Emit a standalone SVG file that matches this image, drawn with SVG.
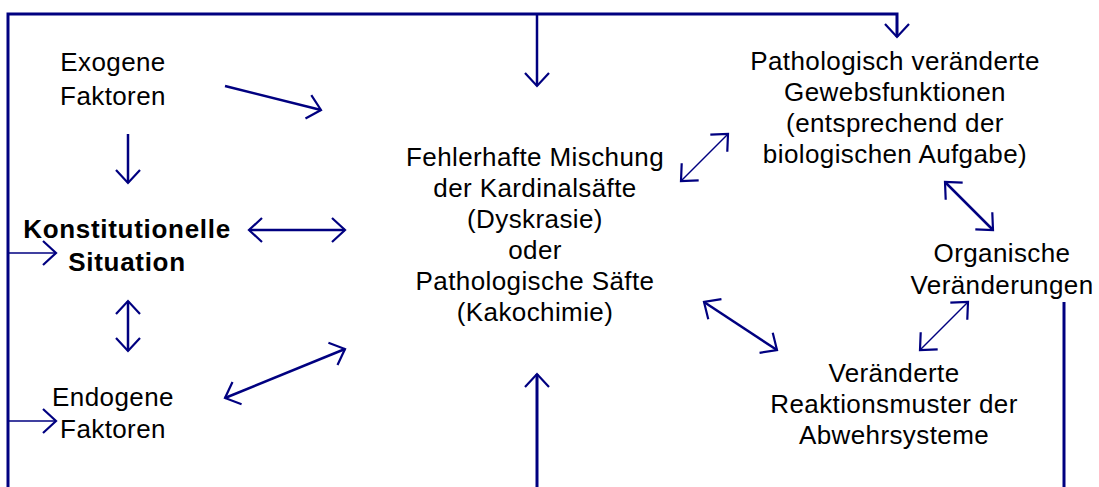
<svg xmlns="http://www.w3.org/2000/svg" width="1099" height="487" viewBox="0 0 1099 487">
<defs>
<style>
text{font-family:"Liberation Sans",Arial,sans-serif;font-size:26px;letter-spacing:0.4px;fill:#000;text-anchor:middle}
.b{font-weight:bold;letter-spacing:0.7px}
.c{fill:none;stroke:#000080;stroke-width:2.5}
.t{stroke-width:1.5}
.f{stroke-width:3}
.a{marker-end:url(#ah)}
.d{marker-start:url(#ah);marker-end:url(#ah)}
</style>
<marker id="ah" markerUnits="userSpaceOnUse" viewBox="0 0 30 30" markerWidth="30" markerHeight="30" refX="15" refY="15" orient="auto-start-reverse" overflow="visible">
<path d="M2,3 L15,15 L2,27" fill="none" stroke="#000080" stroke-width="2.2"/>
</marker>
</defs>
<rect width="1099" height="487" fill="#fff"/>
<g id="connectors">
<polyline class="c f" points="8,487 8,14 897,14 897,37" marker-end="url(#ah)"/>
<line class="c a" x1="537" y1="14" x2="537" y2="86"/>
<line class="c t a" x1="8" y1="253" x2="56" y2="253"/>
<line class="c t a" x1="8" y1="421" x2="56" y2="421"/>
<line class="c f" x1="1064" y1="302" x2="1064" y2="487"/>
<line class="c f a" x1="537" y1="487" x2="537" y2="374"/>
<line class="c a" x1="225" y1="86" x2="321" y2="110"/>
<line class="c a" x1="128" y1="134" x2="128" y2="183"/>
<line class="c d" x1="249" y1="230" x2="345" y2="230"/>
<line class="c d" x1="128" y1="301" x2="128" y2="351"/>
<line class="c d" x1="225" y1="398" x2="345" y2="349"/>
<line class="c t d" x1="681" y1="181" x2="728" y2="134"/>
<line class="c d" x1="945" y1="182" x2="993" y2="230"/>
<line class="c d" x1="704" y1="302" x2="777" y2="350"/>
<line class="c t d" x1="920" y1="350" x2="968" y2="302"/>
</g>
<g id="exogene"><text x="113" y="71">Exogene</text><text x="113" y="105">Faktoren</text></g>
<g id="konstitutionelle"><text class="b" x="127" y="238">Konstitutionelle</text><text class="b" x="127" y="271">Situation</text></g>
<g id="endogene"><text x="113" y="406">Endogene</text><text x="113" y="438">Faktoren</text></g>
<g id="center">
<text x="535" y="166">Fehlerhafte Mischung</text>
<text x="535" y="197">der Kardinalsäfte</text>
<text x="535" y="228">(Dyskrasie)</text>
<text x="535" y="259">oder</text>
<text x="535" y="290">Pathologische Säfte</text>
<text x="535" y="321">(Kakochimie)</text>
</g>
<g id="gewebsfunktionen">
<text x="895" y="70">Pathologisch veränderte</text>
<text x="895" y="101">Gewebsfunktionen</text>
<text x="895" y="132">(entsprechend der</text>
<text x="895" y="163">biologischen Aufgabe)</text>
</g>
<g id="organische"><text x="1002" y="262">Organische</text><text x="1002" y="294">Veränderungen</text></g>
<g id="reaktionsmuster">
<text x="894" y="382">Veränderte</text>
<text x="894" y="413">Reaktionsmuster der</text>
<text x="894" y="444">Abwehrsysteme</text>
</g>
</svg>
